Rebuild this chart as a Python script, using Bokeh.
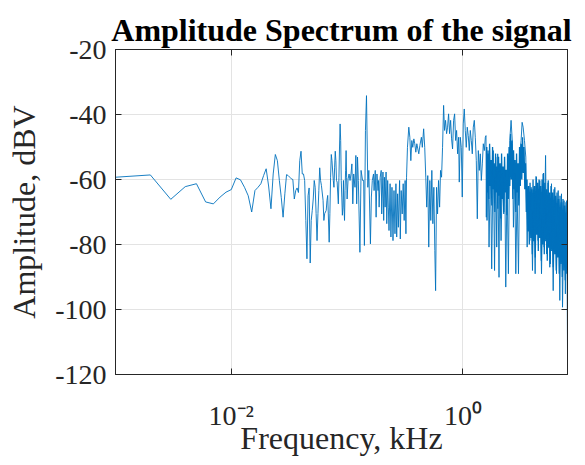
import numpy as np
from bokeh.plotting import figure
from bokeh.models import (Range1d, FixedTicker, LinearAxis, LogAxis,
                          CustomJSTickFormatter)
from bokeh.embed import file_html
from bokeh.resources import INLINE

# ---- data (frequency in Hz, amplitude in dBV) ----
freq_hz = [
    1, 2, 3, 4, 5, 6, 7, 8, 9, 10, 11, 12, 13, 14, 15, 16, 17, 18, 19, 20,
    21, 22, 23, 24, 25, 26, 27, 28, 29, 30, 31, 32, 33, 34, 35, 36, 37, 38, 39, 40,
    41, 42, 43, 44, 45, 46, 47, 48, 49, 50, 51, 52, 53, 54, 55, 56, 57, 58, 59, 60,
    62, 63, 64, 66, 67, 68, 70, 71, 72, 73, 74, 76, 77, 78, 79, 80, 81, 82, 84, 85,
    86, 87, 88, 89, 90, 91, 92, 93, 94, 95, 96, 97, 98, 99, 100,
    102, 104, 106, 108, 110, 112, 114, 117, 119, 121, 123, 125, 129, 132, 136, 139,
    141, 144, 147, 151, 154, 159, 162, 165, 169, 171, 175, 178, 181, 185, 187, 189,
    193, 197, 199, 204, 207, 210, 213, 217, 220, 224, 227, 230, 235, 239, 244, 249,
    254, 259, 264, 268, 273, 277, 284, 288, 293, 299, 305, 311, 317, 322, 326, 332,
    341, 348, 355, 362, 369, 377, 384, 392, 400, 408, 416, 425, 438, 446, 458, 468,
    478, 487, 497, 507, 518, 528, 539, 550, 561, 572, 581, 592, 604, 616, 629, 641,
    654, 667, 681, 694, 708, 723, 737, 752, 767, 783, 798, 814, 831, 848, 865, 882,
    900, 918, 930, 949, 968, 987, 1007, 1027, 1048, 1069, 1090, 1112, 1135, 1158,
    1181, 1205, 1229, 1254, 1279, 1305, 1331, 1358, 1385, 1413, 1442, 1471, 1500,
    1531, 1562, 1582, 1593, 1604, 1615, 1648, 1681, 1728, 1772, 1827, 1876, 1919,
    1958, 1998, 2050, 2079, 2135, 2193, 2252, 2297, 2344, 2405, 2470, 2538, 2606,
    2677, 2730, 2804, 2861, 2938, 3018, 3098, 3180, 3245, 3311, 3401, 3492, 3587,
    3660, 3780, 3883, 3987, 4094, 4204, 4317, 4460, 4613, 4771, 4934, 5034, 5172,
    5277, 5457, 5628, 5820, 6019, 6216, 6429, 6648, 6866, 7100, 7247, 7469, 7668,
    7884, 8000,
]
amp_db = [
    -59.3, -58.6, -66.1, -62.2, -61.3, -66.9, -67.5, -65.4, -63.9, -63.1, -59.5, -60.1, -62.4, -65.0, -70.0, -63.4, -62.4, -61.3, -58.8, -56.7,
    -62.0, -69.0, -58.3, -52.3, -54.2, -60.3, -65.5, -71.6, -64.4, -58.5, -58.8, -59.3, -59.8, -60.0, -66.0, -63.4, -62.6, -64.0, -54.2, -51.3,
    -58.3, -58.3, -60.3, -72.6, -84.4, -65.0, -62.6, -85.7, -72.6, -69.5, -66.0, -60.3, -62.4, -70.5, -78.8, -70.5, -63.4, -56.4, -60.3, -61.8,
    -66.4, -72.6, -70.5, -69.5, -66.4, -64.9, -79.3, -70.5, -59.3, -52.3, -54.2, -60.3, -62.4, -56.2, -51.3, -54.2, -60.3, -60.8, -67.5, -59.3,
    -50.0, -42.9, -48.0, -60.3, -65.4, -71.0, -68.5, -60.3, -68.5, -72.6, -63.4, -57.3, -51.1, -59.3, -66.0,
    -59.8, -58.3, -60.3, -58.3, -55.2, -67.5, -58.3, -62.4, -52.6, -67.5, -53.1, -60.3, -82.4, -57.2, -60.3, -60.3,
    -80.3, -44.9, -34.2, -62.4, -57.2, -79.8, -65.4, -60.3, -58.3, -63.4, -57.2, -71.6, -58.3, -63.4, -60.3, -68.5,
    -59.3, -57.2, -70.6, -57.7, -72.6, -59.3, -68.5, -57.7, -73.6, -60.3, -68.5, -75.7, -61.3, -77.7, -62.4, -78.8,
    -63.4, -76.7, -61.3, -77.7, -64.4, -74.7, -60.3, -78.3, -63.4, -70.6, -61.3, -72.6, -60.3, -76.7, -59.3, -50.1,
    -43.9, -47.0, -54.2, -48.0, -50.1, -47.5, -49.0, -51.6, -49.0, -50.6, -52.1, -49.5, -47.0, -50.1, -44.4, -50.1,
    -59.3, -68.5, -58.8, -80.8, -60.3, -72.6, -57.2, -73.6, -62.4, -81.8, -94.2, -62.4, -70.6, -60.3, -68.5, -57.2,
    -59.3, -50.1, -37.2, -44.9, -41.8, -45.9, -43.9, -39.8, -45.9, -41.8, -47.5, -50.6, -41.8, -39.8, -48.0, -44.9,
    -52.1, -47.0, -60.8, -47.0, -50.1, -65.4, -42.9, -38.3, -44.9, -50.1, -43.9, -46.5, -51.1, -44.9,
    -48.0, -52.1, -43.9, -41.8, -47.0, -54.2, -72.1, -51.1, -57.2, -52.1, -60.3, -55.2, -49.0,
    -51.1, -47.0, -46.5, -71.6, -50.0, -72.6, -51.1, -80.8, -55.2, -87.5, -51.1, -88.0, -53.1,
    -80.8, -52.1, -90.1, -56.2, -78.8, -58.3, -70.6, -57.2, -93.1, -60.3, -89.0, -48.0, -41.8,
    -49.0, -74.7, -58.3, -89.0, -63.4, -89.0, -53.1, -48.0, -42.4, -43.9, -48.0, -53.1, -80.8,
    -63.4, -78.8, -62.4, -88.0, -64.4, -89.0, -59.3, -78.8, -60.3, -89.0, -58.3, -80.8, -52.6,
    -82.9, -60.3, -87.0, -61.3, -94.2, -62.4, -89.0, -63.4, -97.2, -64.4, -99.3, -66.5, -95.2,
    -66.5, -112.6,
]

# densely packed bins of the high-frequency band (Hz, dBV)
dense_freq_hz = [
    1600, 1625, 1650, 1675, 1700, 1725, 1750, 1776, 1803, 1830,
    1858, 1886, 1914, 1943, 1972, 2002, 2032, 2062, 2093, 2125,
    2157, 2189, 2222, 2255, 2289, 2323, 2358, 2394, 2430, 2466,
    2503, 2541, 2579, 2618, 2657, 2697, 2737, 2778, 2820, 2862,
    2905, 2949, 2993, 3038, 3084, 3130, 3177, 3225, 3273, 3322,
    3372, 3423, 3474, 3526, 3579, 3633, 3687, 3743, 3799, 3856,
    3914, 3973, 4032, 4093, 4154, 4217, 4280, 4344, 4410, 4476,
    4543, 4611, 4680, 4751, 4822, 4894, 4968, 5042, 5118, 5195,
    5273, 5352, 5432, 5513, 5596, 5680, 5765, 5852, 5940, 6029,
    6119, 6211, 6304, 6399, 6495, 6592, 6691, 6792, 6894, 6997,
    7102, 7209, 7317, 7427, 7538, 7651, 7766, 7883, 7990,
]
dense_amp_db = [
    -50, -64, -52, -66, -49, -62, -54, -68, -50, -63,
    -55, -70, -52, -64, -56, -69, -53, -65, -55, -72,
    -52, -66, -56, -70, -53, -64, -57, -71, -52, -66,
    -50, -62, -46, -60, -48, -66, -51, -63, -54, -70,
    -52, -64, -55, -68, -50, -62, -49, -60, -47, -58,
    -50, -63, -55, -70, -60, -76, -62, -80, -61, -78,
    -63, -83, -60, -79, -62, -84, -59, -77, -61, -82,
    -60, -78, -62, -85, -60, -80, -58, -83, -61, -79,
    -63, -85, -61, -81, -64, -86, -62, -82, -64, -87,
    -63, -83, -65, -88, -64, -84, -66, -89, -65, -86,
    -67, -90, -66, -88, -68, -91, -67, -89, -70,
]

x_tick_values = [0.01, 1.0]          # kHz
x_tick_labels = ["10\u207b\u00b2", "10\u2070"]
y_tick_values = [-120, -100, -80, -60, -40, -20]

# ---- styling ----
FONT = "Liberation Serif"
LINE_COLOR = "#0072BD"
AXIS_COLOR = "#262626"
GRID_COLOR = "#e3e3e3"
TICK_FS = "28px"
LABEL_FS = "32px"

freq_khz = np.array(freq_hz) / 1000.0
dense_khz = np.array(dense_freq_hz) / 1000.0

p = figure(width=585, height=465, x_axis_type="log",
           x_range=Range1d(0.001, 8.0), y_range=Range1d(-120, -20),
           output_backend="svg", toolbar_location=None,
           min_border_left=115, min_border_right=18,
           min_border_top=49, min_border_bottom=91,
           title="Amplitude Spectrum of the signal")
p.background_fill_color = "white"
p.border_fill_color = "white"
p.outline_line_color = AXIS_COLOR
p.outline_line_width = 1

p.title.text_font = FONT
p.title.text_font_size = "32px"
p.title.text_font_style = "bold"
p.title.text_color = "black"
p.title.align = "center"
p.title.standoff = 4

xt = FixedTicker(ticks=x_tick_values, minor_ticks=[])
yt = FixedTicker(ticks=y_tick_values, minor_ticks=[])

x_fmt = CustomJSTickFormatter(
    args=dict(vals=x_tick_values, labs=x_tick_labels),
    code="""
      for (let i = 0; i < vals.length; i++) {
        if (Math.abs(Math.log10(tick) - Math.log10(vals[i])) < 1e-6) return labs[i];
      }
      return '';
    """)
y_fmt = CustomJSTickFormatter(code="return tick.toFixed(0);")

for ax in p.xaxis:
    ax.ticker = xt
    ax.formatter = x_fmt
    ax.axis_label = "Frequency, kHz"
    ax.axis_label_text_font = FONT
    ax.axis_label_text_font_size = LABEL_FS
    ax.axis_label_text_font_style = "normal"
    ax.axis_label_text_color = AXIS_COLOR
    ax.axis_label_standoff = -14
    ax.major_label_text_font = FONT
    ax.major_label_text_font_size = TICK_FS
    ax.major_label_text_color = AXIS_COLOR
    ax.major_label_standoff = 25
    ax.major_tick_in = 6
    ax.major_tick_out = 0
    ax.minor_tick_in = 0
    ax.minor_tick_out = 0
    ax.axis_line_color = AXIS_COLOR
    ax.major_tick_line_color = AXIS_COLOR

for ax in p.yaxis:
    ax.ticker = yt
    ax.formatter = y_fmt
    ax.axis_label = "Amplitude, dBV"
    ax.axis_label_text_font = FONT
    ax.axis_label_text_font_size = LABEL_FS
    ax.axis_label_text_font_style = "normal"
    ax.axis_label_text_color = AXIS_COLOR
    ax.axis_label_standoff = 10
    ax.major_label_text_font = FONT
    ax.major_label_text_font_size = TICK_FS
    ax.major_label_text_color = AXIS_COLOR
    ax.major_label_standoff = 9
    ax.major_tick_in = 6
    ax.major_tick_out = 0
    ax.minor_tick_in = 0
    ax.minor_tick_out = 0
    ax.axis_line_color = AXIS_COLOR
    ax.major_tick_line_color = AXIS_COLOR

# mirrored ticks on top and right (box on)
blank = CustomJSTickFormatter(code="return ''")
top_ax = LogAxis(ticker=xt, formatter=blank,
                 major_label_text_font_size="1px", major_label_standoff=0,
                 major_tick_in=6, major_tick_out=0, minor_tick_in=0, minor_tick_out=0,
                 axis_line_color=AXIS_COLOR, major_tick_line_color=AXIS_COLOR)
right_ax = LinearAxis(ticker=yt, formatter=blank,
                      major_label_text_font_size="1px", major_label_standoff=0,
                      major_tick_in=6, major_tick_out=0, minor_tick_in=0, minor_tick_out=0,
                      axis_line_color=AXIS_COLOR, major_tick_line_color=AXIS_COLOR)
p.add_layout(top_ax, "above")
p.add_layout(right_ax, "right")

p.xgrid.grid_line_color = GRID_COLOR
p.ygrid.grid_line_color = GRID_COLOR
p.xgrid.grid_line_width = 1
p.ygrid.grid_line_width = 1

p.line(dense_khz, dense_amp_db, line_color=LINE_COLOR, line_width=1.3)
p.line(freq_khz, amp_db, line_color=LINE_COLOR, line_width=0.9)

open("out.html", "w").write(file_html(p, INLINE))
